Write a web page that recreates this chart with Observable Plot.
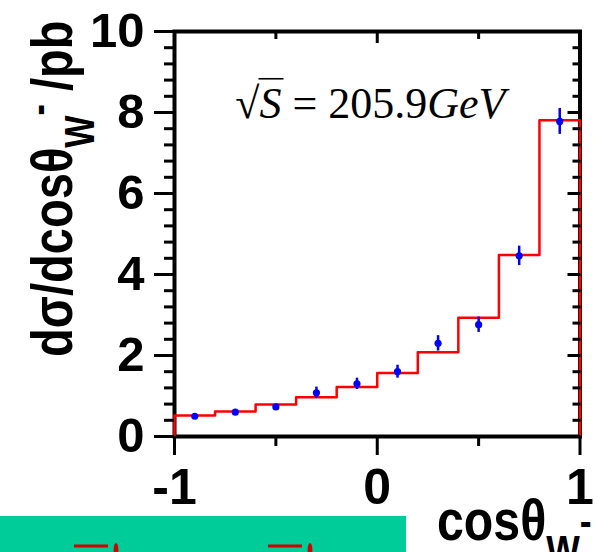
<!DOCTYPE html>
<html>
<head>
<meta charset="utf-8">
<script src="https://cdn.jsdelivr.net/npm/d3@7"></script>
<script src="https://cdn.jsdelivr.net/npm/@observablehq/plot@0.6"></script>
<style>
  html, body { margin: 0; padding: 0; background: #fff; }
  #chart { position: relative; width: 597px; height: 552px; overflow: hidden; }
</style>
</head>
<body>
<div id="chart"></div>
<script>
// Bins in cos(theta_W-) and the predicted differential cross section per bin (pb)
const binLow  = [-1.0, -0.8, -0.6, -0.4, -0.2, 0.0, 0.2, 0.4, 0.6, 0.8];
const binHigh = [-0.8, -0.6, -0.4, -0.2, 0.0, 0.2, 0.4, 0.6, 0.8, 1.0];
const mcXsec  = [0.52, 0.62, 0.79, 0.97, 1.22, 1.57, 2.08, 2.93, 4.48, 7.81];

// Measured points at the bin centres, with their errors (pb)
const dataX    = [-0.9, -0.7, -0.5, -0.3, -0.1, 0.1, 0.3, 0.5, 0.7, 0.9];
const dataXsec = [0.50, 0.60, 0.73, 1.08, 1.30, 1.60, 2.30, 2.76, 4.46, 7.78];
const dataErr  = [0.05, 0.05, 0.06, 0.14, 0.14, 0.16, 0.19, 0.19, 0.24, 0.32];

// Tick values
const yMajor = [0, 2, 4, 6, 8, 10];
const yMinor = d3.range(26).filter(i => i % 5 !== 0).map(i => +(i * 0.4).toFixed(1));
const xMajor = [-1, 0, 1];
const xMinor = [-0.5, 0.5];

// Text pieces
const energyParts = [["√", false], ["S", true], [" = 205.9", false], ["GeV", true]];
const energyLabel = energyParts.map(p => p[0]).join("");
const yTitleParts = [
  {text: "dσ/dcosθ"},
  {text: "W", size: 42, dy: 22},
  {text: "-", size: 42, dy: -41},
  {text: " /pb", dy: 19}
];
const xTitleParts = [
  {text: "cosθ"},
  {text: "W", size: 42, dy: 25},
  {text: "-", size: 42, dy: -29}
];

const sans = '"Liberation Sans", Arial, Helvetica, sans-serif';
const serif = '"Liberation Serif", "Times New Roman", Times, serif';

// Histogram outline: rises from zero at x=-1, steps through the bins, drops to zero at x=1
const steps = [{x: binLow[0], y: 0}]
  .concat(binLow.map((x, i) => ({x, y: mcXsec[i]})))
  .concat([{x: binHigh[binHigh.length - 1], y: mcXsec[mcXsec.length - 1]},
           {x: binHigh[binHigh.length - 1], y: 0}]);

const points = dataX.map((x, i) => ({x, y: dataXsec[i], lo: dataXsec[i] - dataErr[i], hi: dataXsec[i] + dataErr[i]}));

const tickStyle = {stroke: "black", strokeWidth: 3, strokeOpacity: 1, label: null};

const plot = Plot.plot({
  width: 597,
  height: 552,
  marginLeft: 174,
  marginRight: 17.5,
  marginTop: 31,
  marginBottom: 116,
  style: {fontFamily: sans, background: "transparent", color: "black", overflow: "visible"},
  x: {domain: [-1, 1]},
  y: {domain: [0, 10]},
  marks: [
    Plot.frame({stroke: "black", strokeWidth: 4}),
    // prediction histogram
    Plot.line(steps, {x: "x", y: "y", curve: "step-after", stroke: "#ff0000", strokeWidth: 2.5}),
    // data with error bars
    Plot.ruleX(points, {x: "x", y1: "lo", y2: "hi", stroke: "#0000ff", strokeWidth: 2.5}),
    Plot.dot(points, {x: "x", y: "y", r: 3.6, fill: "#0000ff", stroke: "none"}),
    // centre-of-mass energy
    Plot.text([energyLabel], {x: -0.7, y: 7.87, text: d => d, textAnchor: "start", lineAnchor: "bottom",
                              fontFamily: serif, fontSize: 44, fill: "black"}),
    // right axis: inward ticks only
    Plot.axisY({...tickStyle, anchor: "right", ticks: yMajor.slice(), tickSize: -13, text: null}),
    Plot.axisY({...tickStyle, anchor: "right", ticks: yMinor.slice(), tickSize: -8, text: null}),
    // top axis: inward ticks only
    Plot.axisX({...tickStyle, anchor: "top", ticks: [0], tickSize: -11, text: null}),
    Plot.axisX({...tickStyle, anchor: "top", ticks: xMinor.slice(), tickSize: -7, text: null}),
    // bottom axis
    Plot.axisX({...tickStyle, anchor: "bottom", ticks: xMinor, tickSize: 10, text: null}),
    Plot.axisX({...tickStyle, anchor: "bottom", ticks: xMajor, tickSize: 19, tickPadding: 13, tickFormat: d => String(d),
                fontSize: 50, fontWeight: "bold", fill: "black"}),
    // left axis: minors every 0.4, labelled majors
    Plot.axisY({...tickStyle, anchor: "left", ticks: yMinor, tickSize: 10, text: null}),
    Plot.axisY({...tickStyle, anchor: "left", ticks: yMajor, tickSize: 20, tickPadding: 10, tickFormat: d => String(d),
                fontSize: 49, fontWeight: "bold", fill: "black"})
  ]
});

document.getElementById("chart").appendChild(plot);
const svg = d3.select(plot);

// Split the energy label into upright / italic pieces and put a bar over the radicand
const et = svg.selectAll("text").filter(function() { return this.textContent === energyLabel; });
if (!et.empty()) {
  et.text(null);
  for (const [s, it] of energyParts) {
    const ts = et.append("tspan").text(s);
    if (it) ts.attr("font-style", "italic");
  }
  const node = et.node();
  const x0 = node.getEndPositionOfChar(0).x;
  const x1 = node.getEndPositionOfChar(1).x;
  d3.select(node.parentNode).append("line")
    .attr("transform", et.attr("transform"))
    .attr("x1", x0 - 1).attr("x2", x1 + 2)
    .attr("y1", -39).attr("y2", -39)
    .attr("stroke", "black").attr("stroke-width", 1.6);
}

// Axis titles with sub/superscripts, squeezed to the given length
function addTitle(parts, {x, y, rotate, length, size}) {
  const t = svg.append("text")
    .attr("text-anchor", "start")
    .attr("font-family", sans).attr("font-weight", "bold")
    .attr("font-size", size).attr("fill", "black");
  for (const p of parts) {
    const ts = t.append("tspan").text(p.text);
    if (p.size) ts.attr("font-size", p.size);
    if (p.dy) ts.attr("dy", p.dy);
  }
  const w = t.node().getComputedTextLength();
  t.attr("transform", `translate(${x},${y}) rotate(${rotate}) scale(${length / w},1)`);
}
addTitle(yTitleParts, {x: 72, y: 357, rotate: -90, length: 336, size: 58});
addTitle(xTitleParts, {x: 437, y: 540, rotate: 0, length: 154, size: 57});

// Strip of the neighbouring panel along the bottom edge
const strip = svg.append("g");
strip.append("rect").attr("x", 0).attr("y", 516).attr("width", 406).attr("height", 40).attr("fill", "#00cc99");
for (const [bx, px] of [[74, 116], [268, 310]]) {
  strip.append("rect").attr("x", bx).attr("y", 544.5).attr("width", 34).attr("height", 3).attr("fill", "#d40000");
  strip.append("ellipse").attr("cx", px).attr("cy", 550).attr("rx", 2.4).attr("ry", 7).attr("fill", "#d40000");
}
</script>
</body>
</html>
